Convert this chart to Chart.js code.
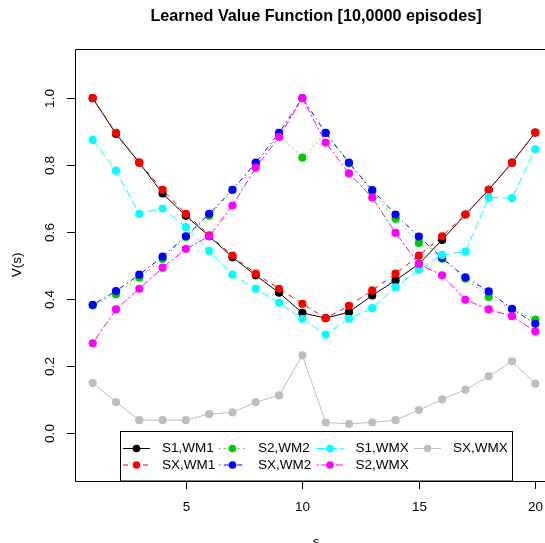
<!DOCTYPE html>
<html>
<head>
<meta charset="utf-8">
<script src="https://cdn.jsdelivr.net/npm/chart.js@4/dist/chart.umd.min.js"></script>
<style>
  html, body { margin: 0; padding: 0; background: #fff; }
  canvas { display: block; }
</style>
</head>
<body>
<canvas id="chart1" width="545" height="543"></canvas>
<script>
const states = [1, 2, 3, 4, 5, 6, 7, 8, 9, 10, 11, 12, 13, 14, 15, 16, 17, 18, 19, 20];

const s1wm1 = [1.0, 0.893, 0.807, 0.715, 0.648, 0.587, 0.524, 0.470, 0.418, 0.358,
               0.342, 0.360, 0.410, 0.455, 0.504, 0.576, 0.652, 0.726, 0.807, 0.897];
const sxwm1 = [1.0, 0.896, 0.807, 0.726, 0.654, 0.590, 0.529, 0.475, 0.430, 0.385,
               0.342, 0.379, 0.425, 0.475, 0.529, 0.587, 0.652, 0.726, 0.807, 0.897];
const s2wm2 = [0.380, 0.413, 0.463, 0.519, 0.585, 0.648, 0.725, 0.805, 0.890, 0.822,
               0.896, 0.805, 0.720, 0.639, 0.567, 0.520, 0.460, 0.405, 0.368, 0.338];
const sxwm2 = [0.382, 0.423, 0.472, 0.526, 0.587, 0.654, 0.726, 0.807, 0.896, 1.0,
               0.896, 0.807, 0.725, 0.652, 0.586, 0.522, 0.464, 0.422, 0.370, 0.325];
const s1wmx = [0.875, 0.783, 0.654, 0.670, 0.614, 0.543, 0.472, 0.430, 0.388, 0.340,
               0.293, 0.340, 0.372, 0.434, 0.487, 0.531, 0.541, 0.703, 0.701, 0.847];
const s2wmx = [0.267, 0.368, 0.430, 0.493, 0.549, 0.587, 0.679, 0.792, 0.884, 1.0,
               0.867, 0.775, 0.703, 0.597, 0.504, 0.470, 0.397, 0.368, 0.348, 0.302];
const sxwmx = [0.148, 0.091, 0.037, 0.037, 0.037, 0.055, 0.060, 0.091, 0.111, 0.231,
               0.030, 0.026, 0.030, 0.037, 0.067, 0.099, 0.128, 0.168, 0.213, 0.146];

const seriesNames = ['S1,WM1', 'SX,WM1', 'S2,WM2', 'SX,WM2', 'S1,WMX', 'S2,WMX', 'SX,WMX'];
const seriesValues = [s1wm1, sxwm1, s2wm2, sxwm2, s1wmx, s2wmx, sxwmx];

const xTicks = [5, 10, 15, 20];
const yTicks = [0.0, 0.2, 0.4, 0.6, 0.8, 1.0];

const colors = ['#000000', '#ff0000', '#00cd00', '#0000ff', '#00ffff', '#ff00ff', '#bebebe'];
// R lty 1..6, last one solid again
const dashes = [[], [5, 5], [1.2, 3.6], [1.2, 3.6, 5, 3.6], [8.5, 3.6], [2.4, 2.4, 7.2, 2.4], []];
const FONT = '"Liberation Sans", Arial, Helvetica, sans-serif';

const datasets = seriesValues.map((vals, i) => ({
    label: seriesNames[i],
    data: vals.map((v, j) => ({ x: states[j], y: v })),
    borderColor: colors[i],
    backgroundColor: colors[i],
    borderWidth: 1,
    borderDash: dashes[i],
    pointRadius: 4.1,
    pointBorderWidth: 0,
    pointHoverRadius: 4.1,
    showLine: true,
    fill: false,
    tension: 0,
    order: 7 - i,
    clip: false
}));

const rDecor = {
    id: 'rDecor',
    afterDraw(chart) {
        const ctx = chart.ctx;
        const a = chart.chartArea;
        const xs = chart.scales.x, ys = chart.scales.y;
        ctx.save();
        ctx.strokeStyle = '#000';
        ctx.fillStyle = '#000';
        ctx.lineWidth = 1;
        ctx.setLineDash([]);

        // plot box (right edge falls outside the picture)
        ctx.beginPath();
        ctx.moveTo(a.right + 20, a.top + 0.5);
        ctx.lineTo(a.left + 0.5, a.top + 0.5);
        ctx.lineTo(a.left + 0.5, a.bottom + 0.5);
        ctx.lineTo(a.right + 20, a.bottom + 0.5);
        ctx.stroke();

        // y ticks + rotated labels
        ctx.font = '13.5px ' + FONT;
        ctx.textAlign = 'center';
        ctx.textBaseline = 'middle';
        yTicks.forEach(t => {
            const py = Math.round(ys.getPixelForValue(t)) + 0.5;
            ctx.beginPath();
            ctx.moveTo(a.left - 8, py);
            ctx.lineTo(a.left, py);
            ctx.stroke();
            ctx.save();
            ctx.translate(50, py);
            ctx.rotate(-Math.PI / 2);
            ctx.fillText(t.toFixed(1), 0, 0);
            ctx.restore();
        });

        // x ticks + labels
        xTicks.forEach(t => {
            const px = Math.round(xs.getPixelForValue(t)) + 0.5;
            ctx.beginPath();
            ctx.moveTo(px, a.bottom);
            ctx.lineTo(px, a.bottom + 8);
            ctx.stroke();
            ctx.fillText(String(t), px, 507);
        });

        // axis titles
        ctx.fillText('s', 316, 542);
        ctx.save();
        ctx.translate(17, 265);
        ctx.rotate(-Math.PI / 2);
        ctx.fillText('V(s)', 0, 0);
        ctx.restore();

        // main title
        ctx.font = 'bold 16.2px ' + FONT;
        ctx.fillText('Learned Value Function [10,0000 episodes]', 316, 16.5);

        // legend, R style, filled column by column
        const box = { l: 120.5, t: 431.5, r: 512.5, b: 481 };
        ctx.fillStyle = '#fff';
        ctx.fillRect(box.l, box.t, box.r - box.l, box.b - box.t);
        ctx.strokeStyle = '#000';
        ctx.strokeRect(box.l, box.t, box.r - box.l, box.b - box.t);
        const colX = [123, 219, 316.5, 414];
        const rowY = [448.5, 465];
        ctx.font = '13.5px ' + FONT;
        ctx.textAlign = 'left';
        seriesNames.forEach((name, i) => {
            const c = Math.floor(i / 2), r = i % 2;
            const x0 = colX[c], y0 = rowY[r];
            ctx.strokeStyle = colors[i];
            ctx.setLineDash(dashes[i]);
            ctx.beginPath();
            ctx.moveTo(x0, y0);
            ctx.lineTo(x0 + 27, y0);
            ctx.stroke();
            ctx.setLineDash([]);
            ctx.fillStyle = colors[i];
            ctx.beginPath();
            ctx.arc(x0 + 13.5, y0, 3.8, 0, Math.PI * 2);
            ctx.fill();
            ctx.fillStyle = '#000';
            ctx.fillText(name, x0 + 39, y0);
        });
        ctx.restore();
    }
};

new Chart(document.getElementById('chart1').getContext('2d'), {
    type: 'scatter',
    data: { datasets: datasets },
    options: {
        responsive: false,
        animation: false,
        devicePixelRatio: 1,
        layout: { padding: { left: 75, top: 49, right: 0, bottom: 62 } },
        plugins: {
            legend: { display: false },
            tooltip: { enabled: false },
            title: { display: false }
        },
        scales: {
            x: { type: 'linear', min: 0.24, max: 20.24, display: false },
            y: { type: 'linear', min: -0.145, max: 1.147, display: false }
        }
    },
    plugins: [rDecor]
});
</script>
</body>
</html>
